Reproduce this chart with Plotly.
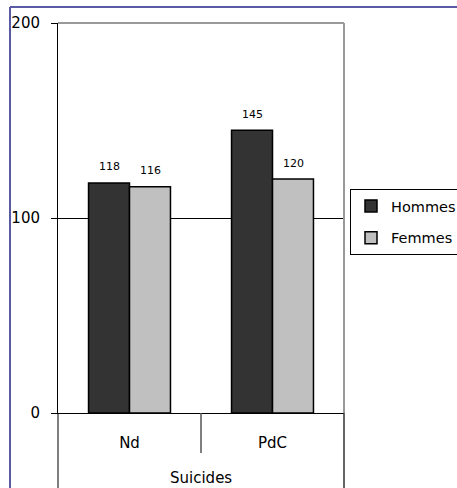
import plotly.graph_objects as go

categories = ["Nd", "PdC"]
group_label = "Suicides"
series_names = ["Hommes", "Femmes"]
hommes = [118, 145]
femmes = [116, 120]
series_values = [hommes, femmes]
series_colors = ["#333333", "#c0c0c0"]
y_ticks = [0, 100, 200]

FONT = "DejaVu Sans"
W, H = 457, 488

fig = go.Figure()
for i, (name, vals, col) in enumerate(zip(series_names, series_values, series_colors)):
    fig.add_trace(go.Bar(
        name=name, x=categories, y=vals,
        marker=dict(color=col, line=dict(color="#000000", width=1.5)),
        legendgroup=name,
    ))

annotations = []
shifts = [-20.5, 20.5]
for i, vals in enumerate(series_values):
    for cat, v in zip(categories, vals):
        annotations.append(dict(
            x=cat, y=v, xref="x", yref="y", text=str(v), showarrow=False,
            xshift=shifts[i], yshift=16, yanchor="middle",
            font=dict(family=FONT, size=11, color="#000000"),
        ))
annotations.append(dict(
    x=0.5, y=-0.167, xref="paper", yref="paper", text=group_label,
    showarrow=False, yanchor="middle", xanchor="center",
    font=dict(family=FONT, size=15, color="#000000"),
))

shapes = [
    dict(type="line", xref="paper", yref="paper", x0=0, x1=1, y0=1, y1=1,
         line=dict(color="#999999", width=2)),
    dict(type="line", xref="paper", yref="paper", x0=1, x1=1, y0=0, y1=1,
         line=dict(color="#999999", width=2)),
    dict(type="line", xref="paper", yref="paper", x0=0.5, x1=0.5, y0=0, y1=-0.1026,
         line=dict(color="#555555", width=1.5)),
    dict(type="line", xref="paper", yref="paper", x0=0, x1=0, y0=0, y1=-0.3,
         line=dict(color="#000000", width=1)),
    dict(type="line", xref="paper", yref="paper", x0=1, x1=1, y0=0, y1=-0.3,
         line=dict(color="#333333", width=1.5)),
    dict(type="line", xref="paper", yref="paper", x0=-0.1678, x1=-0.1678, y0=1.041, y1=-0.3,
         line=dict(color="#5a5aa5", width=2)),
    dict(type="line", xref="paper", yref="paper", x0=-0.1678, x1=1.5, y0=1.041, y1=1.041,
         line=dict(color="#5a5aa5", width=2)),
]

fig.update_layout(
    width=W, height=H,
    margin=dict(l=58, r=113, t=23, b=75, autoexpand=False),
    paper_bgcolor="#ffffff", plot_bgcolor="#ffffff",
    barmode="group", bargap=0.427, bargroupgap=0,
    font=dict(family=FONT, size=15, color="#000000"),
    showlegend=True,
    legend=dict(
        xref="container", yref="container",
        x=350 / W, xanchor="left", y=1 - 189 / H, yanchor="top",
        bgcolor="#ffffff", bordercolor="#000000", borderwidth=1,
        font=dict(family=FONT, size=14.5, color="#000000"),
        tracegroupgap=10,
    ),
    xaxis=dict(
        type="category", showgrid=False, ticks="", showline=True,
        linecolor="#000000", linewidth=1, zeroline=False, automargin=False,
        tickfont=dict(family=FONT, size=15, color="#000000"),
        ticklabelstandoff=16,
    ),
    yaxis=dict(
        range=[0, 200], tickvals=y_ticks, ticks="outside", ticklen=6,
        tickcolor="#000000", showline=True, linecolor="#000000", linewidth=1,
        showgrid=True, gridcolor="#000000", gridwidth=1, zeroline=False,
        automargin=False,
        tickfont=dict(family=FONT, size=15, color="#000000"),
        ticklabelstandoff=8,
    ),
    annotations=annotations,
    shapes=shapes,
)

fig.write_html(
    "out.html",
    config={"displayModeBar": False},
    post_script="document.body.style.margin='0';document.body.style.overflow='hidden';",
)
